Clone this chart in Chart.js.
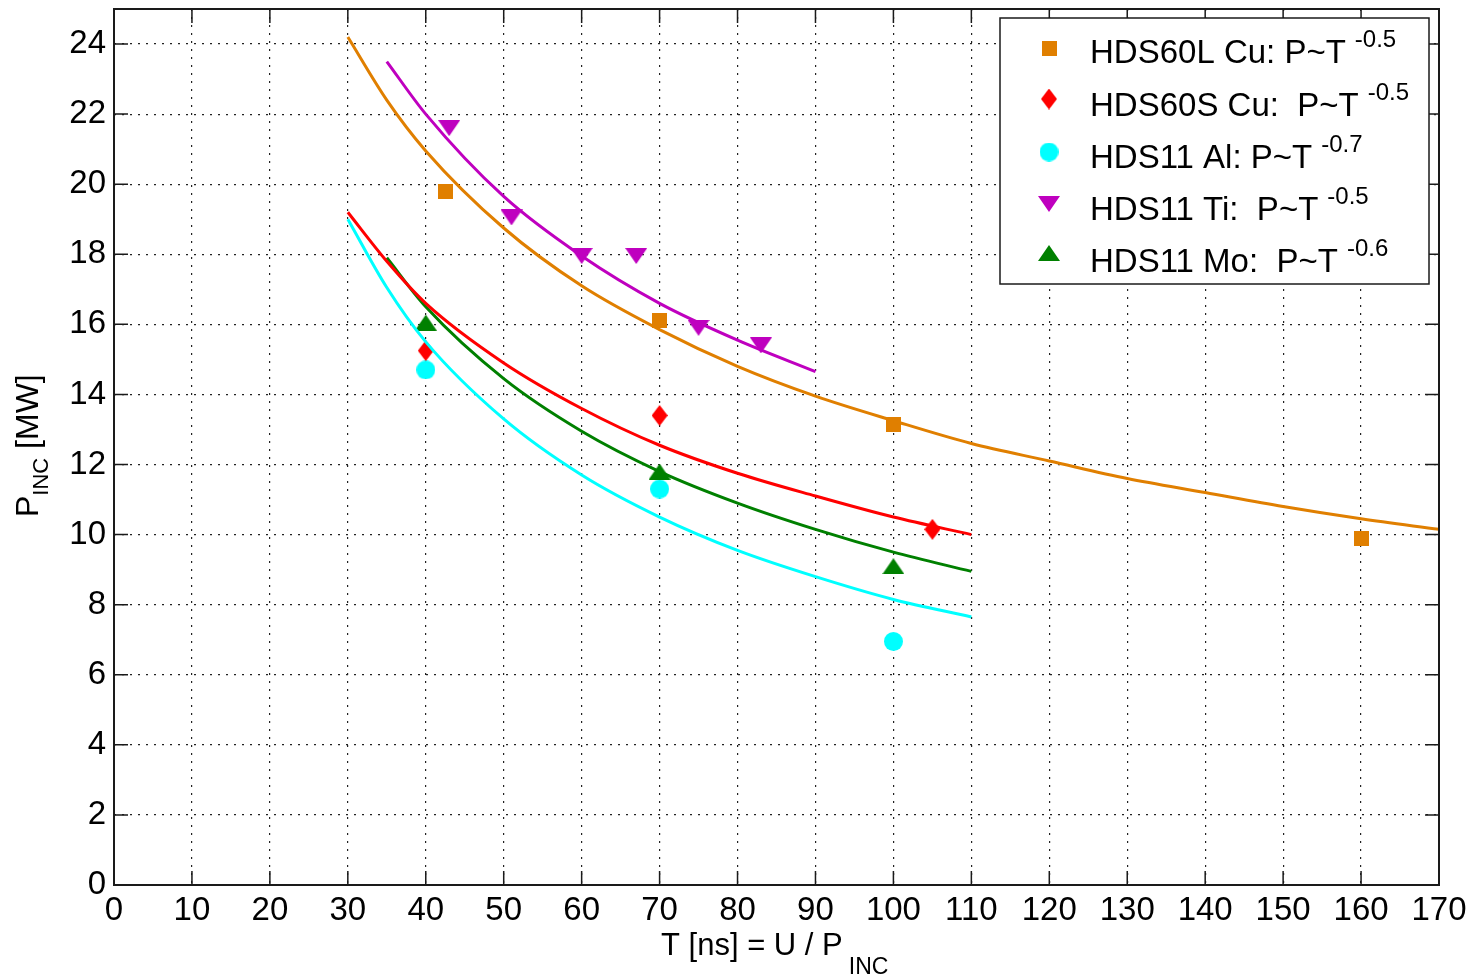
<!DOCTYPE html>
<html>
<head>
<meta charset="utf-8">
<script src="https://cdn.jsdelivr.net/npm/chart.js@4"></script>
<style>
  html, body { margin: 0; padding: 0; background: #fff; }
  #chart { display: block; }
</style>
</head>
<body>
<canvas id="chart" width="1473" height="976"></canvas>
<script>
// fitted curves
const cuLT = [30, 35, 40, 50, 60, 70, 80, 90, 100, 110, 120, 130, 140, 150, 160, 170];
const cuLFit = [24.2, 22.4, 20.95, 18.75, 17.1, 15.85, 14.8, 13.95, 13.25, 12.6, 12.1, 11.6, 11.2, 10.8, 10.45, 10.15];
const cuST = [30, 35, 40, 50, 60, 70, 80, 90, 100, 110];
const cuSFit = [19.2, 17.8, 16.6, 14.9, 13.6, 12.55, 11.75, 11.1, 10.5, 10.0];
const alT = [30, 35, 40, 50, 60, 70, 80, 90, 100, 110];
const alFit = [19.0, 17.05, 15.5, 13.3, 11.7, 10.5, 9.55, 8.8, 8.15, 7.65];
const tiT = [35, 40, 50, 60, 70, 80, 90];
const tiFit = [23.5, 22.0, 19.65, 17.95, 16.6, 15.55, 14.65];
const moT = [35, 40, 50, 60, 70, 80, 90, 100, 110];
const moFit = [17.9, 16.5, 14.45, 12.95, 11.8, 10.9, 10.15, 9.5, 8.95];

// measured points
const cuLPtsT = [42.5, 70, 100, 160];
const cuLPts = [19.8, 16.1, 13.15, 9.9];
const cuSPtsT = [40, 70, 105];
const cuSPts = [15.25, 13.4, 10.15];
const alPtsT = [40, 70, 100];
const alPts = [14.7, 11.3, 6.95];
const tiPtsT = [43, 51, 60, 67, 75, 83];
const tiPts = [21.6, 19.05, 17.95, 17.95, 15.9, 15.4];
const moPtsT = [40, 70, 100];
const moPts = [16.05, 11.8, 9.1];

const legendNames = ['HDS60L Cu: P~T', 'HDS60S Cu:  P~T', 'HDS11 Al: P~T', 'HDS11 Ti:  P~T', 'HDS11 Mo:  P~T'];
const legendExp = ['-0.5', '-0.5', '-0.7', '-0.5', '-0.6'];
const colors = ['#e07f00', '#ff0000', '#00ffff', '#bf00bf', '#008000'];

const FONT = '"Liberation Sans", Arial, Helvetica, sans-serif';

function marker(shape, color) {
  const sizes = { square: [15, 15], diamond: [16, 21], circle: [19, 19], up: [22, 16], down: [22, 16] };
  const w = sizes[shape][0], h = sizes[shape][1];
  const c = document.createElement('canvas');
  c.width = w; c.height = h;
  const g = c.getContext('2d');
  g.fillStyle = color;
  g.beginPath();
  if (shape === 'square') g.rect(0, 0, w, h);
  if (shape === 'diamond') { g.moveTo(w / 2, 0); g.lineTo(w, h / 2); g.lineTo(w / 2, h); g.lineTo(0, h / 2); }
  if (shape === 'circle') g.arc(w / 2, h / 2, w / 2, 0, Math.PI * 2);
  if (shape === 'up') { g.moveTo(w / 2, 0); g.lineTo(w, h); g.lineTo(0, h); }
  if (shape === 'down') { g.moveTo(0, 0); g.lineTo(w, 0); g.lineTo(w / 2, h); }
  g.closePath();
  g.fill();
  return c;
}

const markers = [
  marker('square', colors[0]),
  marker('diamond', colors[1]),
  marker('circle', colors[2]),
  marker('down', colors[3]),
  marker('up', colors[4])
];

function pts(xs, ys) {
  return xs.map((x, i) => ({ x: x, y: ys[i] }));
}

function lineSet(xs, ys, color) {
  return {
    data: pts(xs, ys), showLine: true, borderColor: color, borderWidth: 3,
    pointRadius: 0, cubicInterpolationMode: 'monotone', fill: false
  };
}
function pointSet(xs, ys, m) {
  return { data: pts(xs, ys), showLine: false, pointStyle: m, pointRadius: 8 };
}

// frame, inward ticks, axis titles with subscripts, legend with superscripts
const decor = {
  id: 'decor',
  afterDraw(chart) {
    const ctx = chart.ctx;
    const a = chart.chartArea;
    const xs = chart.scales.x, ys = chart.scales.y;
    ctx.save();
    ctx.strokeStyle = '#1a1a1a';
    ctx.lineWidth = 1.5;
    ctx.beginPath();
    xs.ticks.forEach(t => {
      const px = xs.getPixelForValue(t.value);
      ctx.moveTo(px, a.bottom); ctx.lineTo(px, a.bottom - 14);
      ctx.moveTo(px, a.top); ctx.lineTo(px, a.top + 14);
    });
    ys.ticks.forEach(t => {
      const py = ys.getPixelForValue(t.value);
      ctx.moveTo(a.left, py); ctx.lineTo(a.left + 14, py);
      ctx.moveTo(a.right, py); ctx.lineTo(a.right - 14, py);
    });
    ctx.stroke();
    ctx.lineWidth = 2;
    ctx.strokeRect(a.left, a.top, a.right - a.left, a.bottom - a.top);

    ctx.fillStyle = '#000';
    ctx.textBaseline = 'alphabetic';
    ctx.textAlign = 'left';

    // x title
    ctx.font = '31px ' + FONT;
    const xMain = 'T [ns] = U / P';
    const wMain = ctx.measureText(xMain).width;
    ctx.fillText(xMain, 661, 955);
    ctx.font = '23px ' + FONT;
    ctx.fillText('INC', 661 + wMain + 6, 974);

    // y title
    ctx.save();
    ctx.translate(38, 517);
    ctx.rotate(-Math.PI / 2);
    ctx.font = '32px ' + FONT;
    ctx.fillText('P', 0, 0);
    const wp = ctx.measureText('P').width;
    ctx.font = '22px ' + FONT;
    ctx.fillText('INC', wp, 10);
    const wi = ctx.measureText('INC').width;
    ctx.font = '32px ' + FONT;
    ctx.fillText(' [MW]', wp + wi, 0);
    ctx.restore();

    // legend
    ctx.fillStyle = '#fff';
    ctx.fillRect(1000, 18, 429, 266);
    ctx.strokeStyle = '#1a1a1a';
    ctx.lineWidth = 1.5;
    ctx.strokeRect(1000, 18, 429, 266);
    const baseY = [63, 116, 168, 220, 272];
    const markY = [48, 99, 152, 204, 253];
    legendNames.forEach((name, i) => {
      const m = markers[i];
      ctx.drawImage(m, 1049 - m.width / 2, markY[i] - m.height / 2);
      ctx.fillStyle = '#000';
      ctx.font = '33px ' + FONT;
      ctx.fillText(name, 1090, baseY[i]);
      const w = ctx.measureText(name).width;
      ctx.font = '24px ' + FONT;
      ctx.fillText(legendExp[i], 1090 + w + 9, baseY[i] - 16);
    });
    ctx.restore();
  }
};

const ctx = document.getElementById('chart');

new Chart(ctx, {
  type: 'scatter',
  data: {
    datasets: [
      lineSet(cuLT, cuLFit, colors[0]),
      lineSet(cuST, cuSFit, colors[1]),
      lineSet(alT, alFit, colors[2]),
      lineSet(tiT, tiFit, colors[3]),
      lineSet(moT, moFit, colors[4]),
      pointSet(cuLPtsT, cuLPts, markers[0]),
      pointSet(cuSPtsT, cuSPts, markers[1]),
      pointSet(alPtsT, alPts, markers[2]),
      pointSet(tiPtsT, tiPts, markers[3]),
      pointSet(moPtsT, moPts, markers[4])
    ]
  },
  options: {
    responsive: false,
    animation: false,
    layout: { padding: { left: 0, right: 34, top: 6, bottom: 0 } },
    plugins: { legend: { display: false }, tooltip: { enabled: false } },
    scales: {
      x: {
        type: 'linear', min: 0, max: 170,
        afterFit: s => { s.height = 91; s.paddingLeft = 0; s.paddingRight = 0; },
        ticks: { stepSize: 10, color: '#000', padding: 6, maxRotation: 0, font: { family: FONT, size: 33 } },
        grid: { color: '#222', lineWidth: 1.2, drawTicks: false },
        border: { display: false, dash: [2, 6] }
      },
      y: {
        type: 'linear', min: 0, max: 25,
        afterFit: s => { s.width = 114; s.paddingTop = 0; s.paddingBottom = 0; },
        ticks: { stepSize: 2, includeBounds: false, color: '#000', padding: 8, font: { family: FONT, size: 33 } },
        grid: { color: '#222', lineWidth: 1.2, drawTicks: false },
        border: { display: false, dash: [2, 6] }
      }
    }
  },
  plugins: [decor]
});
</script>
</body>
</html>
